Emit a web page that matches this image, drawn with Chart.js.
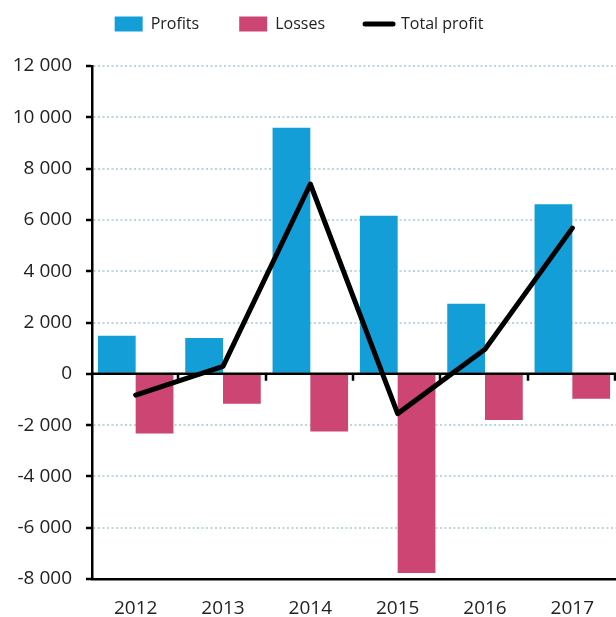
<!DOCTYPE html>
<html>
<head>
<meta charset="utf-8">
<script src="https://cdn.jsdelivr.net/npm/chart.js@4/dist/chart.umd.min.js"></script>
<style>
  html, body { margin: 0; padding: 0; background: #ffffff; }
  #wrap { width: 616px; height: 617px; position: relative; }
</style>
</head>
<body>
<div id="wrap"><canvas id="c"></canvas></div>
<script>
// ---- data ----
const categories = ['2012', '2013', '2014', '2015', '2016', '2017'];
const profits = [1480, 1400, 9590, 6160, 2730, 6610];
const losses = [-2330, -1165, -2250, -7770, -1800, -970];
const totalProfit = [-830, 290, 7400, -1553, 960, 5680];
const seriesNames = ['Profits', 'Losses', 'Total profit'];
const yMin = -8000, yMax = 12000, yStep = 2000;

Chart.defaults.font.family = "'Open Sans', 'Noto Sans', sans-serif";
Chart.defaults.color = '#222222';

const zeroLine = {
  id: 'zeroLine',
  beforeDatasetDraw(chart, args) {
    if (args.meta.type !== 'line') return;
    const { ctx, chartArea, scales: { x, y } } = chart;
    const y0 = y.getPixelForValue(0);
    const n = x.ticks.length;
    const w = (chartArea.right - chartArea.left) / n;
    ctx.save();
    ctx.strokeStyle = '#000000';
    ctx.lineWidth = 2.5;
    ctx.beginPath();
    ctx.moveTo(chartArea.left, y0);
    ctx.lineTo(chartArea.right, y0);
    for (let i = 1; i <= n; i++) {
      const bx = Math.round(chartArea.left + i * w) - 1;
      ctx.moveTo(bx, y0);
      ctx.lineTo(bx, y0 + 7);
    }
    ctx.stroke();
    ctx.restore();
  }
};

const legendShift = {
  id: 'legendShift',
  afterLayout(chart) {
    const lg = chart.legend;
    if (lg) { lg.top -= 24; lg.bottom -= 24; lg.left -= 9; lg.right -= 9; }
  }
};

new Chart(document.getElementById('c'), {
  data: {
    labels: categories,
    datasets: [
      { type: 'bar', label: seriesNames[0], data: profits, backgroundColor: '#149ed8', borderWidth: 0, order: 1,
        categoryPercentage: 0.865, barPercentage: 1 },
      { type: 'bar', label: seriesNames[1], data: losses, backgroundColor: '#cc4573', borderWidth: 0, order: 1,
        categoryPercentage: 0.865, barPercentage: 1 },
      { type: 'line', label: seriesNames[2], data: totalProfit, borderColor: '#000000', backgroundColor: '#000000',
        borderWidth: 5, pointRadius: 0, pointHoverRadius: 0, pointStyle: 'line', tension: 0,
        borderCapStyle: 'round', borderJoinStyle: 'round', order: 0 }
    ]
  },
  options: {
    responsive: true,
    maintainAspectRatio: false,
    animation: false,
    layout: { padding: { left: 0, right: 0, top: 0, bottom: 0 } },
    plugins: {
      tooltip: { enabled: false },
      legend: {
        position: 'top',
        labels: {
          usePointStyle: true,
          pointStyleWidth: 28,
          boxHeight: 15,
          padding: 40,
          color: '#222222',
          font: { size: 16 },
          generateLabels(chart) {
            const items = Chart.defaults.plugins.legend.labels.generateLabels(chart);
            items.forEach(it => {
              const ds = chart.data.datasets[it.datasetIndex];
              if (ds.type === 'line') {
                it.pointStyle = 'line';
                it.lineWidth = 5;
                it.lineCap = 'round';
                it.strokeStyle = '#000000';
              } else {
                it.pointStyle = 'rect';
                it.lineWidth = 0;
              }
            });
            return items.sort((a, b) => a.datasetIndex - b.datasetIndex);
          }
        }
      }
    },
    scales: {
      x: {
        offset: true,
        grid: { display: false, drawTicks: false },
        border: { display: true, color: '#000000', width: 2.5 },
        ticks: { font: { size: 19 }, color: '#222222', padding: 18, maxRotation: 0 },
        afterFit(scale) { scale.height = 38; }
      },
      y: {
        min: yMin,
        max: yMax,
        grid: {
          color: '#b9d7e2',
          lineWidth: 2,
          drawTicks: true,
          tickLength: 6,
          tickColor: '#000000',
          tickWidth: 2.5
        },
        border: { display: true, color: '#000000', width: 2.5, dash: [2, 2.5] },
        ticks: {
          stepSize: yStep,
          font: { size: 19 },
          color: '#222222',
          padding: 14,
          callback: v => String(v).replace(/\B(?=(\d{3})+(?!\d))/g, ' ')
        },
        afterFit(scale) { scale.width = 92; }
      }
    }
  },
  plugins: [zeroLine, legendShift]
});
</script>
</body>
</html>
